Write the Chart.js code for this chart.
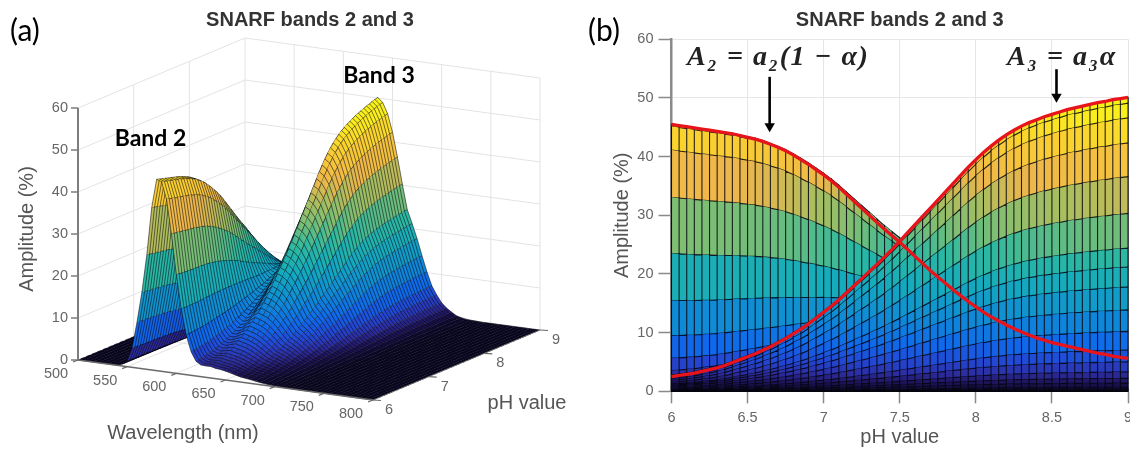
<!DOCTYPE html>
<html>
<head>
<meta charset="utf-8">
<style>
html,body{margin:0;padding:0;background:#fff;width:1130px;height:450px;overflow:hidden}
canvas{position:absolute;top:0}
#a{left:0}
#b{left:580px}
</style>
<script src="https://cdn.jsdelivr.net/npm/chart.js@4"></script>
</head>
<body>
<canvas id="a" width="620" height="450"></canvas>
<canvas id="b" width="550" height="450"></canvas>
<script>
const chartTitle = 'SNARF bands 2 and 3';
const pHValues = [6,6.05,6.1,6.15,6.2,6.25,6.3,6.35,6.4,6.45,6.5,6.55,6.6,6.65,6.7,6.75,6.8,6.85,6.9,6.95,7,7.05,7.1,7.15,7.2,7.25,7.3,7.35,7.4,7.45,7.5,7.55,7.6,7.65,7.7,7.75,7.8,7.85,7.9,7.95,8,8.05,8.1,8.15,8.2,8.25,8.3,8.35,8.4,8.45,8.5,8.55,8.6,8.65,8.7,8.75,8.8,8.85,8.9,8.95,9];
const band2Amplitude = [45.5,45.3,45.1,44.9,44.7,44.5,44.3,44.1,43.9,43.6,43.3,43.0,42.6,42.1,41.6,41.0,40.3,39.5,38.7,37.8,36.9,35.9,34.8,33.6,32.4,31.2,30.0,28.8,27.6,26.5,25.4,24.2,23.0,21.8,20.6,19.5,18.4,17.3,16.3,15.3,14.4,13.5,12.7,12.0,11.3,10.7,10.1,9.6,9.1,8.7,8.3,8.0,7.7,7.4,7.1,6.8,6.5,6.3,6.0,5.8,5.6];
const band3Amplitude = [2.5,2.7,2.9,3.1,3.4,3.7,4.0,4.4,4.9,5.4,5.9,6.4,7.0,7.6,8.3,9.0,9.8,10.6,11.5,12.5,13.5,14.5,15.6,16.8,18.0,19.2,20.4,21.6,22.9,24.2,25.6,27.0,28.4,29.8,31.2,32.6,34.0,35.4,36.8,38.2,39.5,40.7,41.8,42.8,43.7,44.5,45.2,45.8,46.3,46.8,47.2,47.6,48.0,48.3,48.6,48.9,49.2,49.4,49.7,49.9,50.1];
const wavelengths = [500,505,510,515,520,525,530,535,540,545,550,555,560,565,570,575,580,585,590,595,600,605,610,615,620,625,630,635,640,645,650,655,660,665,670,675,680,685,690,695,700,705,710,715,720,725,730,735,740,745,750,755,760,765,770,775,780,785,790,795,800];
const band2Shape = [0,0,0,0,0,0,0,0,0,.01,.03,.1,.24,.4,.6,.85,1,.99,.9,.72,.505,.324,.187,.096,.043,.02,.01,.005,0,0,0,0,0,0,0,0,0,0,0,0,0,0,0,0,0,0,0,0,0,0,0,0,0,0,0,0,0,0,0,0,0];
const band3Shape = [0,0,0,0,0,0,0,0,0,0,0,0,0,0,0,.01,.02,.04,.07,.12,.2,.3,.39,.5,.62,.75,.9,1,.98,.93,.845,.73,.605,.487,.423,.355,.277,.204,.14,.1,.066,.044,.028,.014,.008,.004,.002,.001,0,0,0,0,0,0,0,0,0,0,0,0,0];
const wavelengthTicks = [500,550,600,650,700,750,800];
const pHTicks3d = [6,7,8,9];
const amplitudeTicks = [0,10,20,30,40,50,60];
const pHTickLabels = ['6','6.5','7','7.5','8','8.5','9'];

const amp = (i, j) => band2Amplitude[j] * band2Shape[i] + band3Amplitude[j] * band3Shape[i];

const cmStops = [[0,[12,8,40]],[1.5,[30,20,90]],[3,[45,45,160]],[5,[35,70,210]],[8,[15,105,235]],[12,[15,135,215]],[18,[20,170,190]],[23,[45,185,160]],[28,[125,190,115]],[32,[170,190,95]],[36,[238,182,75]],[42,[250,205,50]],[47,[250,238,30]],[51,[245,245,20]]];
function colorOf(z){
  for(let k=1;k<cmStops.length;k++){
    if(z<=cmStops[k][0]){
      const [z0,c0]=cmStops[k-1],[z1,c1]=cmStops[k];
      const t=Math.max(0,(z-z0)/(z1-z0));
      return `rgb(${c0.map((v,m)=>Math.round(v+(c1[m]-v)*t)).join(',')})`;
    }
  }
  return `rgb(${cmStops[cmStops.length-1][1].join(',')})`;
}

function stripGradient(chart, i, pixelOfPH){
  const a=pixelOfPH(6),b=pixelOfPH(9);
  if(!Number.isFinite(a)||!Number.isFinite(b)) return 'rgba(0,0,0,0)';
  const g = chart.ctx.createLinearGradient(a,0,b,0);
  pHValues.forEach((p,j)=>{
    const zm=(amp(i,j)+amp(i+1,j))/2;
    g.addColorStop((p-6)/3,colorOf(zm));
  });
  return g;
}

const line = (data,color,width,extra={}) => Object.assign({data,borderColor:color,borderWidth:width,pointRadius:0,fill:false,borderDash:[5000,0],clip:false},extra);

/* ---------- panel (a): orthographic view of the surface ---------- */
const P = (lam,ph,z) => ({
  x: 78 + (lam-500)/300*295 + (ph-6)/3*167,
  y: 360 + (lam-500)/300*40 - (ph-6)/3*70 - z*4.2
});
const painted = [];
const GRID='#e3e3e3', AX='#7d7d7d';
amplitudeTicks.forEach(z=>{
  painted.push(line([P(500,6,z),P(500,9,z),P(800,9,z)],GRID,1));
});
[7,8,9].forEach(p=>painted.push(line([P(500,p,0),P(500,p,60)],GRID,1)));
wavelengthTicks.slice(1).forEach(l=>painted.push(line([P(l,9,0),P(l,9,60)],GRID,1)));
wavelengthTicks.slice(1,-1).forEach(l=>painted.push(line([P(l,6,0),P(l,9,0)],GRID,1)));
[7,8].forEach(p=>painted.push(line([P(500,p,0),P(800,p,0)],GRID,1)));

for(let i=0;i<wavelengths.length-1;i++){
  const l0=wavelengths[i],l1=wavelengths[i+1],lm=(l0+l1)/2;
  const outline=[],mesh=[];
  pHValues.forEach((p,j)=>outline.push(P(l0,p,amp(i,j))));
  for(let j=pHValues.length-1;j>=0;j--) outline.push(P(l1,pHValues[j],amp(i+1,j)));
  pHValues.forEach((p,j)=>{
    const A=P(l0,p,amp(i,j)),B=P(l1,p,amp(i+1,j));
    if(j%2===0) mesh.push(A,B); else mesh.push(B,A);
  });
  painted.push({data:outline,borderWidth:0,pointRadius:0,fill:'shape',clip:false,borderColor:'rgba(0,0,0,0)',
    backgroundColor:c=>stripGradient(c.chart,i,p=>{
      const s=c.chart.scales.x; return s.getPixelForValue(P(lm,p,0).x);
    })});
  painted.push(line(mesh,'rgba(5,5,15,0.78)',0.7));
}
painted.push(line([P(500,6,0),P(500,6,60)],AX,2));
amplitudeTicks.forEach(z=>{const q=P(500,6,z);painted.push(line([{x:q.x-7,y:q.y},{x:q.x,y:q.y}],AX,1.5));});
painted.push(line([P(500,6,0),P(800,6,0)],'#6a6a6a',1.3));
painted.push(line([P(800,6,0),P(800,9,0)],'#6a6a6a',1));
wavelengthTicks.forEach(l=>{const q=P(l,6,0);painted.push(line([q,{x:q.x-5,y:q.y+2}],'#6a6a6a',1.2));});
pHTicks3d.forEach(p=>{const q=P(800,p,0);painted.push(line([q,{x:q.x+8,y:q.y+0.5}],'#6a6a6a',1.2));});

const labelsA = {
  id:'labelsA',
  afterDatasetsDraw(chart){
    const c=chart.ctx,sx=chart.scales.x,sy=chart.scales.y;
    const px=q=>({x:sx.getPixelForValue(q.x),y:sy.getPixelForValue(q.y)});
    c.save();
    c.textBaseline='middle';
    c.fillStyle='#666';
    c.font='14.5px "Liberation Sans"';
    c.textAlign='right';
    amplitudeTicks.forEach(z=>{const q=px(P(500,6,z));c.fillText(String(z),q.x-10,q.y);});
    c.textAlign='center';
    wavelengthTicks.forEach(l=>{const q=px(P(l,6,0));c.fillText(String(l),q.x-22,q.y+14);});
    pHTicks3d.forEach(p=>{const q=px(P(800,p,0));c.fillText(String(p),q.x+16,q.y+10);});
    c.fillStyle='#555';
    c.font='20px "Liberation Sans"';
    c.fillText('Wavelength (nm)',183,433);
    c.fillText('pH value',527,403);
    c.save();c.translate(27,229);c.rotate(-Math.PI/2);c.fillText('Amplitude (%)',0,0);c.restore();
    c.fillStyle='#000';
    c.font='bold 23px Lato';
    c.fillText('Band 2',150.5,139);
    c.fillText('Band 3',379,76);
    c.font='30px Lato';
    c.textAlign='left';
    c.fillText('(a)',10,31);
    c.restore();
  }
};

new Chart(document.getElementById('a'),{
  type:'line',
  data:{datasets:painted.slice().reverse()},
  plugins:[labelsA],
  options:{
    responsive:false,animation:false,events:[],
    layout:{padding:0,autoPadding:false},
    plugins:{legend:{display:false},tooltip:{enabled:false},
      title:{display:true,text:chartTitle,color:'#333',font:{family:'"Liberation Sans"',size:20,weight:'bold',lineHeight:1.2},padding:{top:8,bottom:0}}},
    scales:{
      x:{type:'linear',display:false,min:0,max:620},
      y:{type:'linear',display:false,min:32,max:450,reverse:true}
    }
  }
});

/* ---------- panel (b): the same surface seen along the wavelength axis ---------- */
const paintedB=[];
for(let i=0;i<wavelengths.length-1;i++){
  const outline=[],mesh=[];
  pHValues.forEach((p,j)=>outline.push({x:p,y:amp(i,j)}));
  for(let j=pHValues.length-1;j>=0;j--) outline.push({x:pHValues[j],y:amp(i+1,j)});
  pHValues.forEach((p,j)=>{
    const A={x:p,y:amp(i,j)},B={x:p,y:amp(i+1,j)};
    if(j%2===0) mesh.push(A,B); else mesh.push(B,A);
  });
  paintedB.push({data:outline,borderWidth:0,pointRadius:0,fill:'shape',clip:false,borderColor:'rgba(0,0,0,0)',
    backgroundColor:c=>stripGradient(c.chart,i,p=>c.chart.scales.x.getPixelForValue(p))});
  paintedB.push(line(mesh,'rgba(5,5,15,0.85)',1.1));
}
const RED='#e8141c';
paintedB.push(line(pHValues.map((p,j)=>({x:p,y:band2Amplitude[j]})),RED,3.3));
paintedB.push(line(pHValues.map((p,j)=>({x:p,y:band3Amplitude[j]})),RED,3.3));
paintedB.push(line([{x:6.645,y:53.6},{x:6.645,y:45.2}],'#000',2.6,{pointRadius:[0,6],pointStyle:'triangle',rotation:180,pointBackgroundColor:'#000',pointBorderWidth:0}));
paintedB.push(line([{x:8.53,y:54.9},{x:8.53,y:50.2}],'#000',2.6,{pointRadius:[0,6],pointStyle:'triangle',rotation:180,pointBackgroundColor:'#000',pointBorderWidth:0}));

const labelsB={
  id:'labelsB',
  afterDatasetsDraw(chart){
    const c=chart.ctx;
    c.save();
    c.textBaseline='middle';
    c.textAlign='left';
    c.fillStyle='#000';
    c.font='30px Lato';
    c.fillText('(b)',8,31);
    c.fillStyle='#222';
    c.font='bold italic 28px "Liberation Serif"';
    c.letterSpacing='1.5px';
    c.fillText('A\u2082 = a\u2082(1 \u2212 \u03b1)',107,58);
    c.fillText('A\u2083 = a\u2083\u03b1',427,58);
    c.restore();
  }
};

new Chart(document.getElementById('b'),{
  type:'line',
  data:{datasets:paintedB.slice().reverse()},
  plugins:[labelsB],
  options:{
    responsive:false,animation:false,events:[],
    layout:{padding:{left:0,right:2,top:0,bottom:0},autoPadding:false},
    plugins:{legend:{display:false},tooltip:{enabled:false},
      title:{display:true,fullSize:false,text:chartTitle,color:'#333',font:{family:'"Liberation Sans"',size:20,weight:'bold',lineHeight:1.2},padding:{top:8,bottom:7.3}}},
    scales:{
      x:{type:'linear',min:6,max:9,
        afterFit:s=>{s.height=58.7;s.paddingLeft=0;s.paddingRight=0;},
        grid:{color:'#e6e6e6',tickColor:'#8a8a8a',tickLength:12,tickWidth:1.5},
        border:{color:'#8a8a8a',width:2},
        ticks:{stepSize:0.5,autoSkip:false,maxRotation:0,padding:6,color:'#666',font:{family:'"Liberation Sans"',size:14.5},
          callback:(v,i)=>pHTickLabels[i]},
        title:{display:true,text:'pH value',color:'#555',font:{family:'"Liberation Sans"',size:20,lineHeight:1.2},padding:{top:0,bottom:1}}
      },
      y:{type:'linear',min:0,max:60,
        afterFit:s=>{s.width=91.5;s.paddingTop=0;s.paddingBottom=0;},
        grid:{color:'#e6e6e6',tickColor:'#8a8a8a',tickLength:13,tickWidth:1.5},
        border:{color:'#8a8a8a',width:2.5},
        ticks:{stepSize:10,padding:5,color:'#666',font:{family:'"Liberation Sans"',size:14.5},
          callback:v=>String(v)},
        title:{display:true,text:'Amplitude (%)',color:'#555',font:{family:'"Liberation Sans"',size:20,lineHeight:1.2},padding:{top:30,bottom:0}}
      }
    }
  }
});
</script>
</body>
</html>
